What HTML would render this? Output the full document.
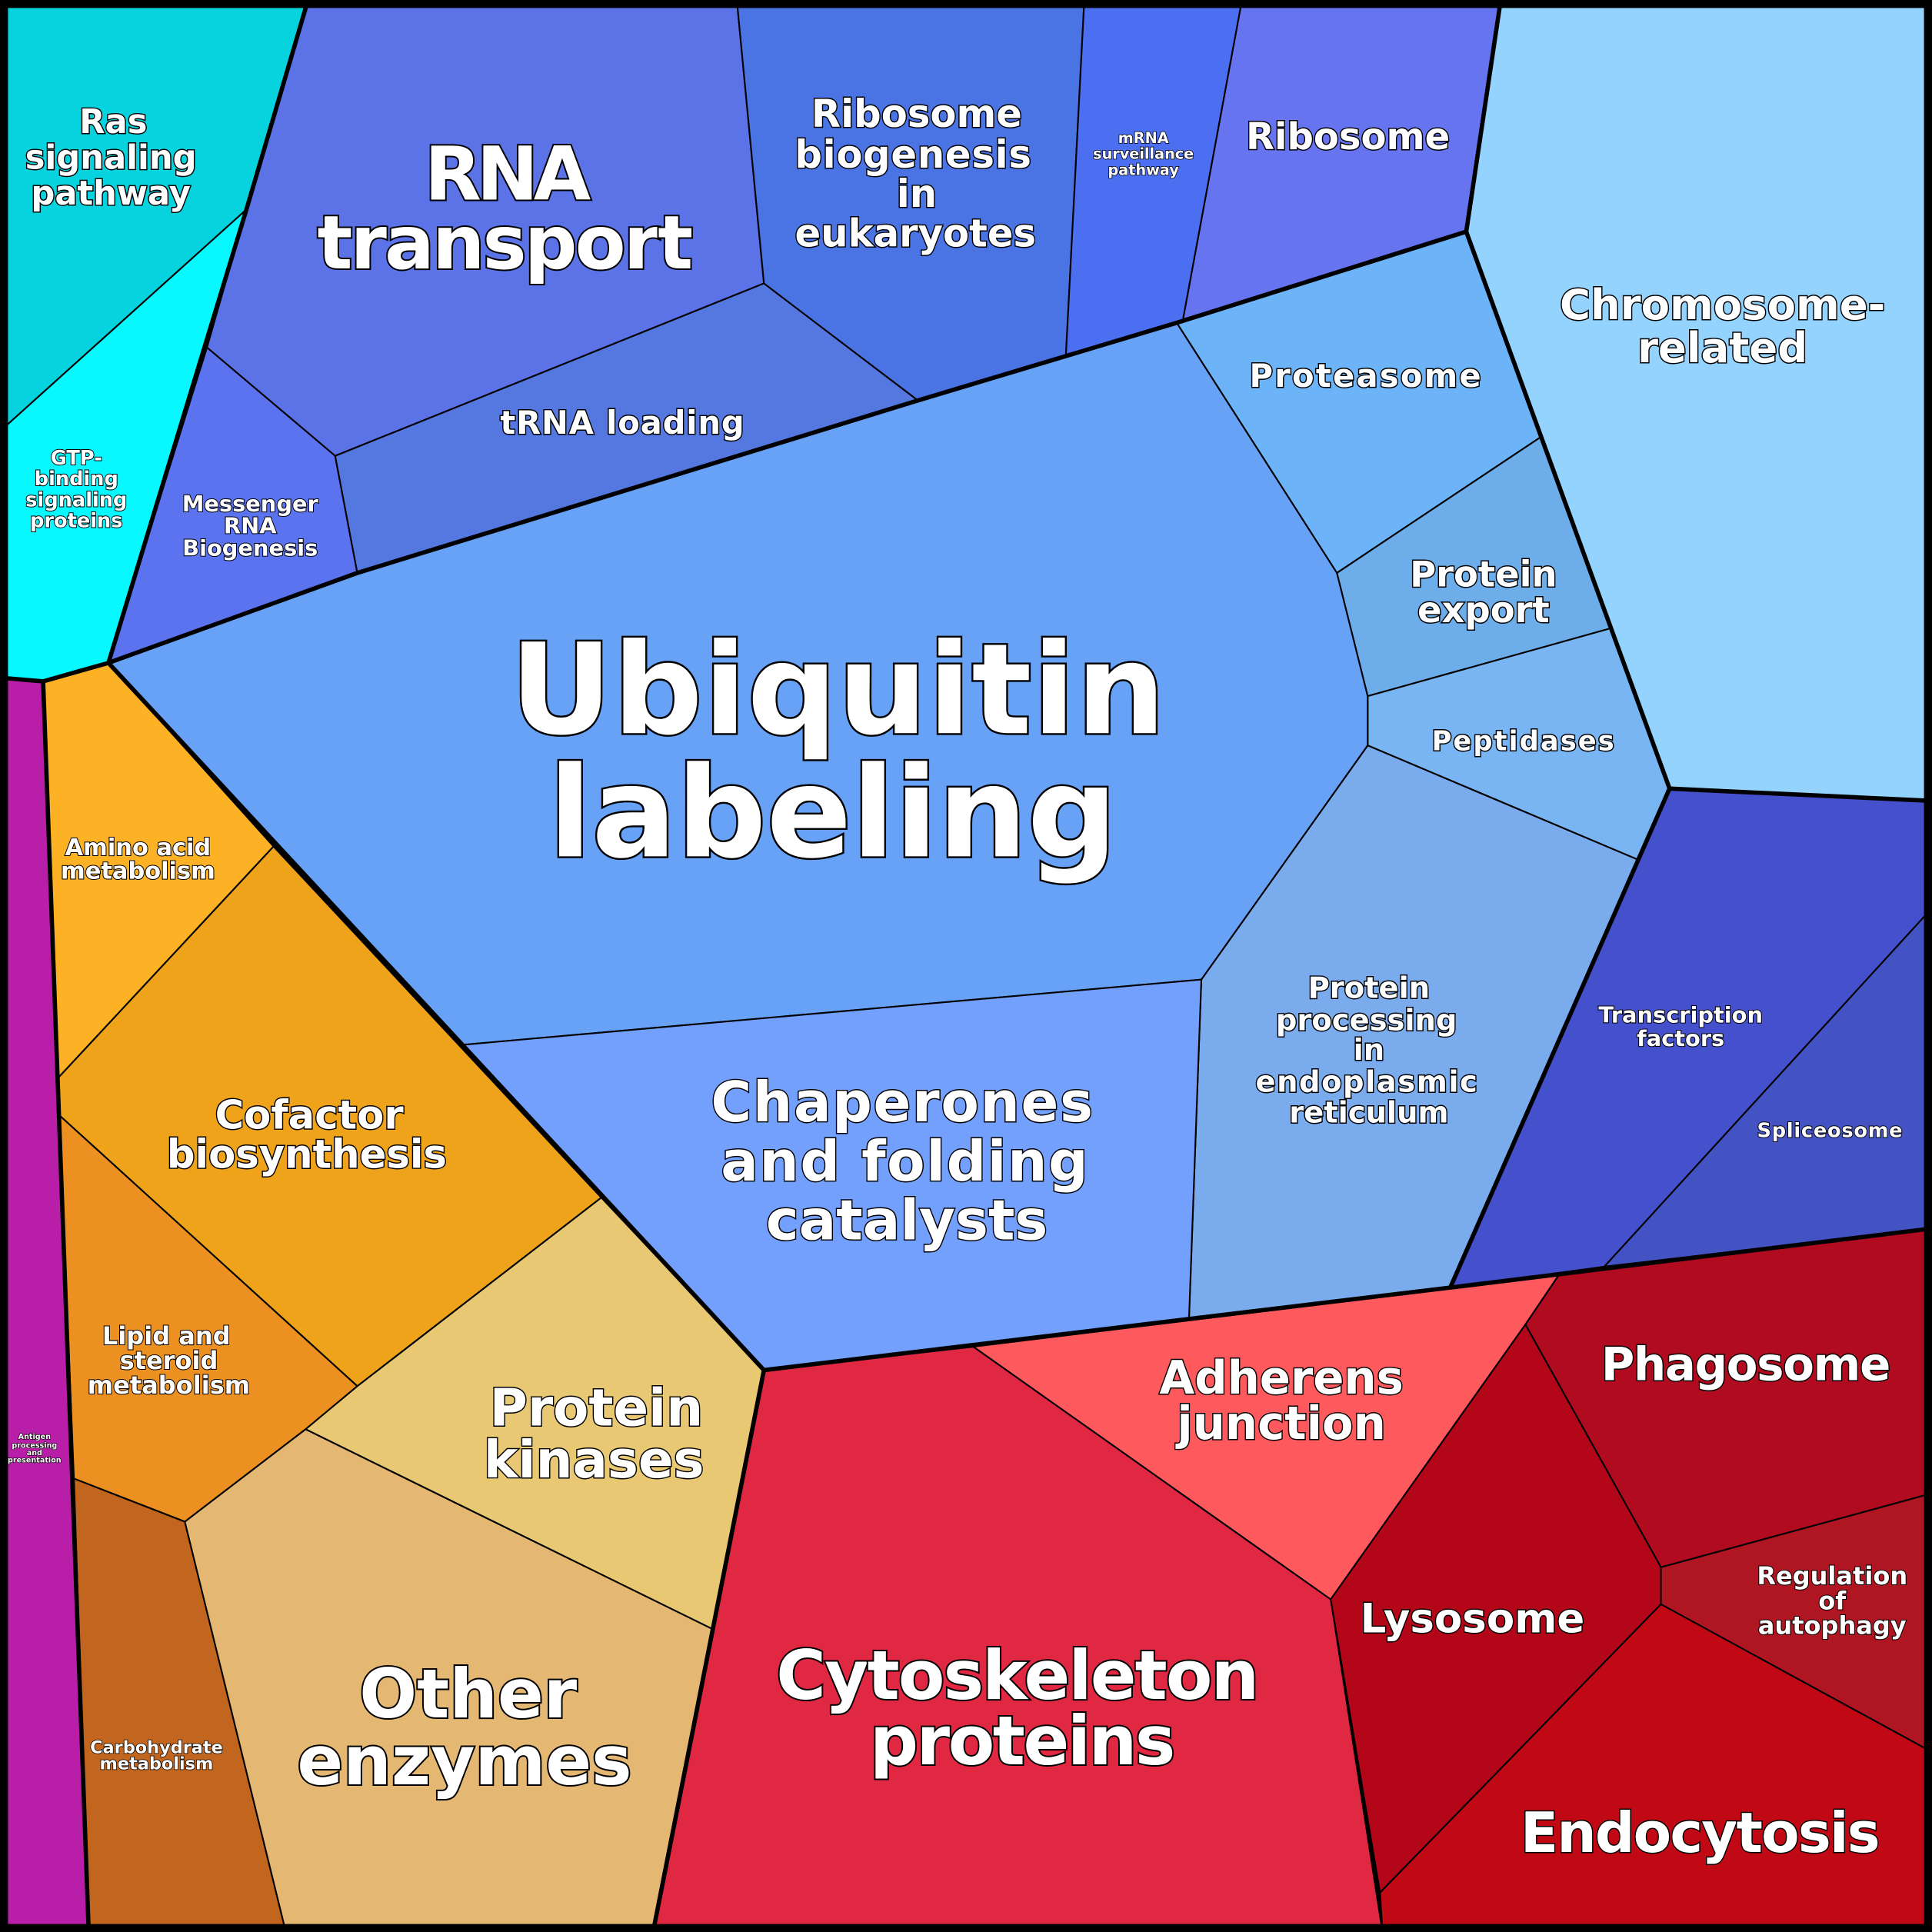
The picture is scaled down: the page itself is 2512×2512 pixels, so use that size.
<!DOCTYPE html>
<html><head><meta charset="utf-8"><style>
html,body{margin:0;padding:0;background:#000}
svg{display:block}
text{font-family:"DejaVu Sans","Liberation Sans",sans-serif;font-weight:bold;fill:#fff;stroke:#000;paint-order:stroke;text-anchor:middle}
</style></head><body>
<svg width="2512" height="2512" viewBox="0 0 1568 1568" xmlns="http://www.w3.org/2000/svg">
<g stroke="#000" stroke-width="1.3" stroke-linejoin="round">
<polygon fill="#06d3de" points="0,0 250,0 200,170 0,350"/>
<polygon fill="#08f8ff" points="0,350 200,170 88,538 35,553 0,550"/>
<polygon fill="#b81ea8" points="0,550 35,553 72,1568 0,1568"/>
<polygon fill="#5b73e6" points="250,0 598,0 620,230 272,370 168,282 200,170"/>
<polygon fill="#5b73ef" points="168,282 272,370 290,465 88,538"/>
<polygon fill="#5478df" points="272,370 620,230 745,325 290,465"/>
<polygon fill="#4a73e3" points="598,0 880,0 865,290 745,325 620,230"/>
<polygon fill="#4b6ff0" points="880,0 1008,0 960,260 865,290"/>
<polygon fill="#6674f0" points="1008,0 1218,0 1190,188 955,262 960,260"/>
<polygon fill="#93d3fd" points="1218,0 1568,0 1568,650 1355,640 1250,355 1190,188"/>
<polygon fill="#6db3f8" points="955,262 1190,188 1250,355 1085,465"/>
<polygon fill="#6cadea" points="1085,465 1250,355 1307,510 1110,565"/>
<polygon fill="#78b5f2" points="1110,565 1307,510 1355,640 1330,698 1110,605"/>
<polygon fill="#7aabec" points="1110,605 1330,698 1177,1045 965,1070 975,795"/>
<polygon fill="#67a2f6" points="88,538 290,465 745,325 865,290 955,262 1085,465 1110,565 1110,605 975,795 375,848"/>
<polygon fill="#72a0fc" points="375,848 975,795 965,1070 790,1093 620,1112 488,972"/>
<polygon fill="#4551cc" points="1355,640 1568,650 1568,737 1302,1028 1177,1045"/>
<polygon fill="#4453c4" points="1568,737 1568,997 1302,1028"/>
<polygon fill="#fdb225" points="35,553 88,538 222,687 47,875"/>
<polygon fill="#efa31a" points="47,875 222,687 488,972 290,1125 48,905"/>
<polygon fill="#ec9121" points="48,905 290,1125 248,1160 150,1235 60,1200"/>
<polygon fill="#c2661f" points="60,1200 150,1235 232,1568 72,1568"/>
<polygon fill="#e8c872" points="488,972 620,1112 578,1322 248,1160 290,1125"/>
<polygon fill="#e4b772" points="248,1160 578,1322 530,1568 232,1568 150,1235"/>
<polygon fill="#e12843" points="620,1112 790,1093 1080,1298 1122,1568 530,1568"/>
<polygon fill="#fe5a5e" points="790,1093 1265,1035 1238,1075 1080,1298"/>
<polygon fill="#b10b20" points="1265,1035 1568,997 1568,1212 1348,1272 1238,1075"/>
<polygon fill="#b30619" points="1238,1075 1348,1272 1348,1302 1120,1536 1080,1298"/>
<polygon fill="#b01522" points="1348,1272 1568,1212 1568,1422 1348,1302"/>
<polygon fill="#c10815" points="1348,1302 1568,1422 1568,1568 1122,1568 1120,1536"/>
</g>
<g fill="none" stroke="#000" stroke-width="3.5" stroke-linejoin="round">
<polyline points="250,0 200,170 88,538"/>
<polyline points="0,550 35,553 88,538"/>
<polyline points="35,553 72,1568"/>
<polyline points="88,538 620,1112 530,1568"/>
<polyline points="620,1112 1177,1045 1568,997"/>
<polyline points="1218,0 1190,188 1355,640 1568,650"/>
<polyline points="1355,640 1177,1045"/>
<polyline points="955,262 1190,188"/>
<polyline points="88,538 290,465 745,325 955,262"/>
</g>
<rect x="3" y="3" width="1562" height="1562" fill="none" stroke="#000" stroke-width="7"/>
<g stroke-width="1.8">
<text font-size="27" x="92" y="108">Ras</text>
<text font-size="27" x="90" y="137">signaling</text>
<text font-size="27" x="90" y="166">pathway</text>
<text font-size="16" x="62" y="377" stroke-width="1.2">GTP-</text>
<text font-size="16" x="62" y="394" stroke-width="1.2">binding</text>
<text font-size="16" x="62" y="411" stroke-width="1.2">signaling</text>
<text font-size="16" x="62" y="428" stroke-width="1.2">proteins</text>
<text font-size="60" x="412" y="162" stroke-width="2.5" textLength="135">RNA</text>
<text font-size="60" x="410" y="218" stroke-width="2.5" textLength="305">transport</text>
<text font-size="31" x="744" y="103">Ribosome</text>
<text font-size="31" x="741" y="136" textLength="192">biogenesis</text>
<text font-size="31" x="744" y="168">in</text>
<text font-size="31" x="743" y="200">eukaryotes</text>
<text font-size="12" x="928" y="116" stroke-width="1">mRNA</text>
<text font-size="12" x="928" y="129" stroke-width="1">surveillance</text>
<text font-size="12" x="928" y="142" stroke-width="1">pathway</text>
<text font-size="30" x="1094" y="121">Ribosome</text>
<text font-size="34" x="1398" y="259">Chromosome-</text>
<text font-size="34" x="1398" y="294">related</text>
<text font-size="26" x="1108" y="314" textLength="188">Proteasome</text>
<text font-size="26" x="505" y="352" textLength="198">tRNA loading</text>
<text font-size="18" x="203" y="415" stroke-width="1.3">Messenger</text>
<text font-size="18" x="203" y="433" stroke-width="1.3">RNA</text>
<text font-size="18" x="203" y="451" stroke-width="1.3">Biogenesis</text>
<text font-size="29" x="1204" y="476">Protein</text>
<text font-size="29" x="1204" y="505">export</text>
<text font-size="22" x="1236" y="609" textLength="148">Peptidases</text>
<text font-size="102" x="680" y="595" stroke-width="3" textLength="532">Ubiquitin</text>
<text font-size="102" x="676" y="695" stroke-width="3">labeling</text>
<text font-size="19" x="112" y="694" stroke-width="1.3">Amino acid</text>
<text font-size="19" x="112" y="713" stroke-width="1.3">metabolism</text>
<text font-size="24" x="1111" y="810">Protein</text>
<text font-size="24" x="1109" y="836">processing</text>
<text font-size="24" x="1111" y="860">in</text>
<text font-size="24" x="1109" y="886" textLength="180">endoplasmic</text>
<text font-size="24" x="1111" y="911">reticulum</text>
<text font-size="18" x="1364" y="830" stroke-width="1.3">Transcription</text>
<text font-size="18" x="1364" y="849" stroke-width="1.3">factors</text>
<text font-size="16" x="1485" y="923" stroke-width="1.2" textLength="118">Spliceosome</text>
<text font-size="32" x="251" y="916">Cofactor</text>
<text font-size="32" x="249" y="948">biosynthesis</text>
<text font-size="45" x="732" y="910" textLength="310">Chaperones</text>
<text font-size="45" x="734" y="958" textLength="298">and folding</text>
<text font-size="45" x="736" y="1006">catalysts</text>
<text font-size="20" x="135" y="1091" stroke-width="1.3">Lipid and</text>
<text font-size="20" x="137" y="1111" stroke-width="1.3">steroid</text>
<text font-size="20" x="137" y="1131" stroke-width="1.3">metabolism</text>
<text font-size="6" x="28" y="1168" stroke-width="0.8">Antigen</text>
<text font-size="6" x="28" y="1175" stroke-width="0.8">processing</text>
<text font-size="6" x="28" y="1181" stroke-width="0.8">and</text>
<text font-size="6" x="28" y="1187" stroke-width="0.8">presentation</text>
<text font-size="42" x="484" y="1157">Protein</text>
<text font-size="42" x="482" y="1199">kinases</text>
<text font-size="37" x="1040" y="1131">Adherens</text>
<text font-size="37" x="1040" y="1168">junction</text>
<text font-size="37" x="1417" y="1120" textLength="235">Phagosome</text>
<text font-size="33" x="1195" y="1325" textLength="182">Lysosome</text>
<text font-size="20" x="1487" y="1286" stroke-width="1.3">Regulation</text>
<text font-size="20" x="1487" y="1306" stroke-width="1.3">of</text>
<text font-size="20" x="1487" y="1326" stroke-width="1.3">autophagy</text>
<text font-size="55" x="380" y="1394" stroke-width="2.5">Other</text>
<text font-size="55" x="377" y="1448" stroke-width="2.5">enzymes</text>
<text font-size="55" x="826" y="1379" stroke-width="2.5" textLength="392">Cytoskeleton</text>
<text font-size="55" x="830" y="1432" stroke-width="2.5" textLength="248">proteins</text>
<text font-size="14" x="127" y="1423" stroke-width="1">Carbohydrate</text>
<text font-size="14" x="127" y="1436" stroke-width="1">metabolism</text>
<text font-size="45" x="1380" y="1503" textLength="292">Endocytosis</text>
</g>
</svg>
</body></html>
